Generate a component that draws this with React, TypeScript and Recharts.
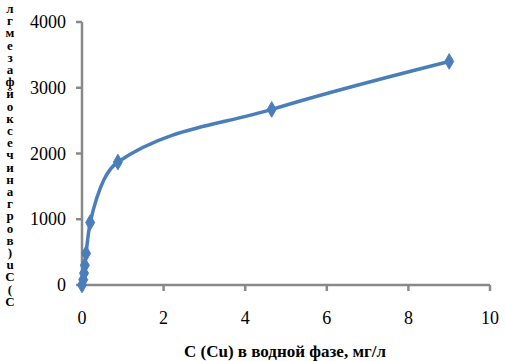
import React from 'react';
import { LineChart, Line, XAxis, YAxis, Symbols } from 'recharts';

// C(Cu) в водной фазе, мг/л
const cuWater = [0, 0.03, 0.05, 0.07, 0.1, 0.2, 0.88, 4.65, 9.0];
// C(Cu) в органической фазе, мг/л
const cuOrganic = [0, 80, 180, 300, 480, 950, 1870, 2670, 3400];

const xTicks = [0, 2, 4, 6, 8, 10];
const yTicks = [0, 1000, 2000, 3000, 4000];

const xTitle = 'С (Cu) в водной фазе, мг/л';
// vertical label, letters stacked from the top (reversed order as in the source)
const yTitleChars = ['л', 'г', 'м', 'е', 'з', 'а', 'ф', 'й', 'о', 'к', 'с', 'е', 'ч', 'и', 'н', 'а', 'г', 'р', 'о', 'в', ')', 'u', 'C', '(', 'С'];

const font = 'Liberation Serif';
const blue = '#4A7EBB';
const grey = '#898989';

const data = cuWater.map((x, i) => ({ x, y: cuOrganic[i] }));

const Diamond = (props: any) => {
  const { cx, cy } = props;
  if (cx == null || cy == null) return null;
  return <Symbols key={`d-${props.index}`} cx={cx} cy={cy} type="diamond" size={70} fill={blue} stroke={blue} />;
};

const XTick = (props: any) => {
  const { x, y, payload } = props;
  return (
    <text x={x} y={y + 31} fontFamily={font} fontSize={18} fill="#000" textAnchor="middle">
      {payload.value}
    </text>
  );
};

const YTick = (props: any) => {
  const { x, y, payload } = props;
  return (
    <text x={x - 8} y={y + 6} fontFamily={font} fontSize={18} fill="#000" textAnchor="end">
      {payload.value}
    </text>
  );
};

const YTitle = () => (
  <text x={10} y={0} fontFamily={font} fontWeight="bold" fontSize={13} fill="#000" textAnchor="middle">
    {yTitleChars.map((c, i) => (
      <tspan key={i} x={10} y={13 + i * 12.2}>
        {c}
      </tspan>
    ))}
  </text>
);

const XTitle = () => (
  <text x={285} y={357} fontFamily={font} fontWeight="bold" fontSize={17} fill="#000" textAnchor="middle">
    {xTitle}
  </text>
);

export default function App() {
  return (
    <div style={{ position: 'absolute', left: 0, top: 0, background: '#fff' }}>
      <LineChart width={506} height={361} data={data} margin={{ top: 22, right: 16, left: 0, bottom: 0 }}>
        <XAxis
          dataKey="x"
          type="number"
          domain={[0, 10]}
          ticks={xTicks}
          height={76}
          stroke={grey}
          strokeWidth={2.5}
          tickSize={6}
          tick={<XTick />}
          label={{ content: () => <XTitle /> }}
        />
        <YAxis
          type="number"
          domain={[0, 4000]}
          ticks={yTicks}
          width={82}
          stroke={grey}
          strokeWidth={2.5}
          tickSize={6}
          tick={<YTick />}
          label={{ content: () => <YTitle /> }}
        />
        <Line
          type="monotone"
          dataKey="y"
          stroke={blue}
          strokeWidth={3.5}
          dot={<Diamond />}
          activeDot={false}
          isAnimationActive={false}
        />
      </LineChart>
    </div>
  );
}
